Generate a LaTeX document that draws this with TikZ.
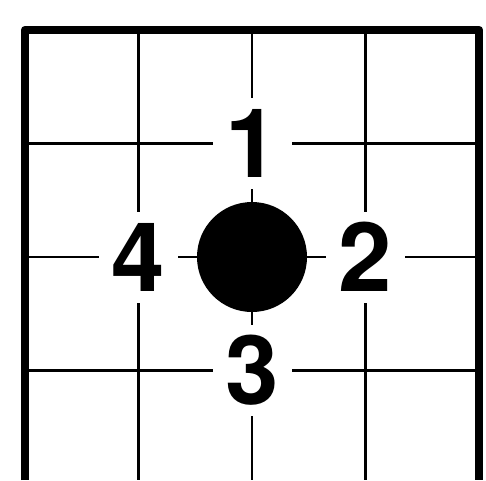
\documentclass[tikz,border=0pt]{standalone}
\usepackage{fontspec}
\setmainfont{TeX Gyre Heros}
\usepackage{tikz}
\usetikzlibrary{positioning}

\begin{document}
\begin{tikzpicture}[x=1pt, y=-1pt]
   \tikzstyle{num}=[fill=white, inner sep=0pt, minimum width=79pt, minimum height=91pt,
                    font=\fontsize{96}{96}\selectfont\bfseries]
   \tikzstyle{stone}=[circle, fill=black, inner sep=0pt, minimum size=110pt]
   \useasboundingbox (0,0) rectangle (486,480);
   %% grid
   \foreach \x in {138.5, 252, 365.5}
      \draw[line width=2.6pt] (\x, 30) -- (\x, 480);
   \foreach \y in {143.5, 257, 370.5}
      \draw[line width=2.6pt] (25, \y) -- (479, \y);
   \draw[line width=8.5pt, line join=round] (25, 480) -- (25, 30) -- (479, 30) -- (479, 480);
   %% stone
   \node (P) at (252, 257) [stone] {};
   %% labels
   \node (1) at (252, 143.5) [num] {1};
   \node (2) at (365.5, 257) [num] {2};
   \node (3) at (252, 370.5) [num] {3};
   \node (4) at (138.5, 257) [num] {4};
\end{tikzpicture}
\end{document}
